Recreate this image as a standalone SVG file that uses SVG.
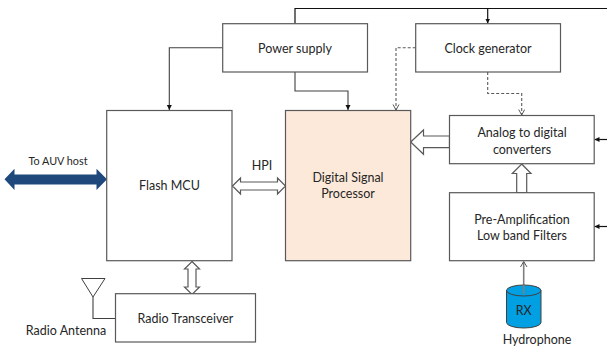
<svg xmlns="http://www.w3.org/2000/svg" width="607" height="347" viewBox="0 0 607 347">
<style>
text{font-family:"Lato","Liberation Sans",sans-serif;font-size:12.5px;fill:#262626;text-anchor:middle}
.b{fill:#fff;stroke:#595959;stroke-width:1.2}
.l{fill:none;stroke:#404040;stroke-width:1.1}
.k{fill:none;stroke:#111;stroke-width:1.2}
.d{fill:none;stroke:#595959;stroke-width:1.1;stroke-dasharray:3 2}
.o{fill:#fff;stroke:#595959;stroke-width:1.2}
</style>
<defs>
<marker id="a" markerWidth="6" markerHeight="6" refX="5" refY="2.5" orient="auto" markerUnits="userSpaceOnUse"><path d="M0 0L5 2.5L0 5z" fill="#111"/></marker>
<marker id="v" markerWidth="7" markerHeight="8" refX="6" refY="3.5" orient="auto" markerUnits="userSpaceOnUse"><path d="M0.5 0.5L6 3.5L0.5 6.5" fill="none" stroke="#595959"/></marker>
</defs>
<g id="connectors">
<path class="k" d="M295 23.5V8.5H607"/>
<path class="k" d="M487.7 8.5V23.5" marker-end="url(#a)"/>
<path class="l" d="M222.7 47.7H169.3V110" marker-end="url(#a)"/>
<path class="l" d="M295 72V91H348V110" marker-end="url(#a)"/>
<path class="d" d="M415.7 47.7H396V110" marker-end="url(#v)"/>
<path class="d" d="M487.7 72V93.5H521.7V115" marker-end="url(#v)"/>
<path class="k" d="M607 139.5H594.5" marker-end="url(#a)"/>
<path class="k" d="M607 226.5H594.5" marker-end="url(#a)"/>
<path d="M523.7 285V262" fill="none" stroke="#7f7f7f" stroke-width="1.6"/>
<path d="M520.5 267L523.7 261.5L527 267" fill="none" stroke="#595959" stroke-width="1"/>
<path d="M4.5 179.3L14.5 168.7V174.5H96.5V168.7L107 179.3L96.5 190V184.5H14.5V190z" fill="#1f497d"/>
<path class="o" d="M232.5 186L240.5 178V182H277.5V178L285.5 186L277.5 194V190H240.5V194z"/>
<path class="o" d="M192 261.5L199.5 269H196V287H199.5L192 294.5L184.5 287H188V269H184.5z"/>
<path class="o" d="M410.7 142L423.5 130V136H449.5V147.7H423.5V154.3z"/>
<path class="o" d="M521.7 164L531 173.5H526.7V192.5H516.7V173.5H512.3z"/>
<path class="l" d="M93 297V318.5H115.5"/>
</g>
<g id="power-supply"><rect class="b" x="222.7" y="23.7" width="144.8" height="48.3"/><text x="295" y="52.5">Power supply</text></g>
<g id="clock-generator"><rect class="b" x="415.7" y="23.7" width="144.8" height="48.3"/><text x="488" y="52.5">Clock generator</text></g>
<g id="flash-mcu"><rect class="b" x="106.7" y="110.5" width="125.3" height="150.2"/><text x="169.5" y="190">Flash MCU</text></g>
<g id="dsp"><rect x="285.5" y="110.5" width="125.2" height="150.2" fill="#fce9d9" stroke="#595959" stroke-width="1.2"/><text x="348" y="181.5">Digital Signal</text><text x="348" y="198">Processor</text></g>
<g id="adc"><rect class="b" x="449.5" y="115.5" width="144.7" height="48.2"/><text x="522" y="137">Analog to digital</text><text x="522" y="153.5">converters</text></g>
<g id="preamp"><rect class="b" x="449.5" y="192.7" width="144.7" height="68"/><text x="522" y="223.5">Pre-Amplification</text><text x="522" y="240">Low band Filters</text></g>
<g id="radio"><rect class="b" x="115.5" y="293.7" width="140" height="48.3"/><text x="185.5" y="323">Radio Transceiver</text></g>
<g id="antenna"><path d="M81.5 278.5H105L93 297z" fill="#fff" stroke="#404040"/><text x="66" y="335">Radio Antenna</text></g>
<g id="hydrophone"><path d="M506.5 290.5A17.25 5.5 0 0 1 541 290.5V322.5A17.25 5.5 0 0 1 506.5 322.5z" fill="#00a0e3" stroke="#404040" stroke-width="1"/><path d="M506.5 290.5A17.25 5.5 0 0 0 541 290.5" fill="none" stroke="#404040" stroke-width="1"/><path d="M523.7 294V285" stroke="#7f7f7f" stroke-width="1.6"/><text x="523.7" y="315">RX</text><text x="537" y="344">Hydrophone</text></g>
<g id="labels"><text x="58" y="165" style="font-size:10.8px">To AUV host</text><text x="262" y="170">HPI</text></g>
</svg>
